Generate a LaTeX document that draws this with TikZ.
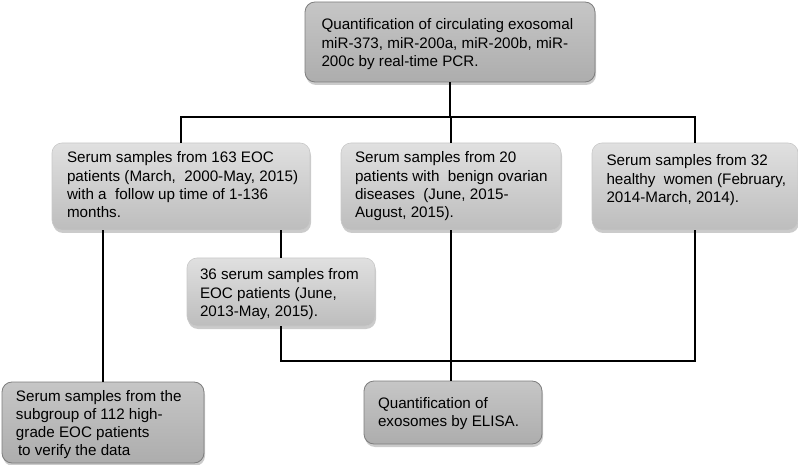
\documentclass[tikz,border=0pt]{standalone}
\usepackage{fontspec}
\setmainfont{Liberation Sans}
\usetikzlibrary{shadows}
\definecolor{ltop}{HTML}{E0E0E0}
\definecolor{lbot}{HTML}{BDBDBD}
\definecolor{dtop}{HTML}{C6C6C6}
\definecolor{dbot}{HTML}{ADADAD}
\definecolor{dedge}{HTML}{7E7E7E}
\definecolor{ledge}{HTML}{C8C8C8}
\newcommand{\btext}[5]{\hspace*{#1}\parbox[c][#2][t]{#3}{\raggedright\rule{0pt}{#4}#5}}
\tikzset{
  base/.style={rounded corners=10pt, inner sep=0pt, anchor=center,
    font=\fontsize{15.2pt}{18.2pt}\selectfont,
    drop shadow={shadow xshift=1pt, shadow yshift=-3pt, opacity=0.45, fill=black!45}},
  lightbox/.style={base, draw=ledge, line width=0.6pt, top color=ltop, bottom color=lbot},
  darkbox/.style={base, draw=dedge, line width=0.8pt, top color=dtop, bottom color=dbot},
  conn/.style={draw=black, line width=2pt}
}
\begin{document}
\begin{tikzpicture}[x=1pt, y=-1pt]
\useasboundingbox (0,0) rectangle (798,465);

\node[darkbox, minimum width=290pt, minimum height=80pt] (top) at (450,42)
  {\btext{15pt}{80pt}{272pt}{28pt}{Quantification of circulating exosomal\\miR-373, miR-200a, miR-200b, miR-\\200c by real-time PCR.}};

\node[lightbox, minimum width=258pt, minimum height=87pt] (left) at (181,186.5)
  {\btext{14pt}{87pt}{242pt}{20pt}{Serum samples from 163 EOC\\patients (March,\ \ 2000-May, 2015)\\with a\ \ follow up time of 1-136\\months.}};

\node[lightbox, minimum width=220pt, minimum height=87pt] (mid) at (451,186.5)
  {\btext{13pt}{87pt}{205pt}{20pt}{Serum samples from 20\\patients with\ \ benign ovarian\\diseases\ \ (June, 2015-\\August, 2015).}};

\node[lightbox, minimum width=206pt, minimum height=87pt] (right) at (695,186.5)
  {\btext{13pt}{87pt}{190pt}{23pt}{Serum samples from 32\\healthy\ \ women (February,\\2014-March, 2014).}};

\node[lightbox, minimum width=188pt, minimum height=68pt] (b36) at (281,292)
  {\btext{12pt}{68pt}{174pt}{22pt}{36 serum samples from\\EOC patients (June,\\2013-May, 2015).}};

\node[darkbox, minimum width=202pt, minimum height=81pt] (bl) at (103,422.5)
  {\btext{13pt}{81pt}{187pt}{19pt}{Serum samples from the\\subgroup of 112 high-\\grade EOC patients\\\hspace*{2pt}to verify the data}};

\node[darkbox, minimum width=178pt, minimum height=63pt] (bm) at (453,412.5)
  {\btext{13pt}{63pt}{163pt}{27pt}{Quantification of\\exosomes by ELISA.}};

\coordinate (hy) at (0,117);
\coordinate (ly) at (0,361);

\draw[conn] (left.north) |- (top.south |- hy) -| (right.north);
\draw[conn] (top.south) -- (top.south |- hy) -| (mid.north);
\draw[conn] (bl.north) -- (bl.north |- left.south);
\draw[conn] (b36.north) -- (b36.north |- left.south);
\draw[conn] (b36.south) |- (ly -| right.south) -- (right.south);
\draw[conn] (mid.south) -- (mid.south |- bm.north);
\end{tikzpicture}
\end{document}
